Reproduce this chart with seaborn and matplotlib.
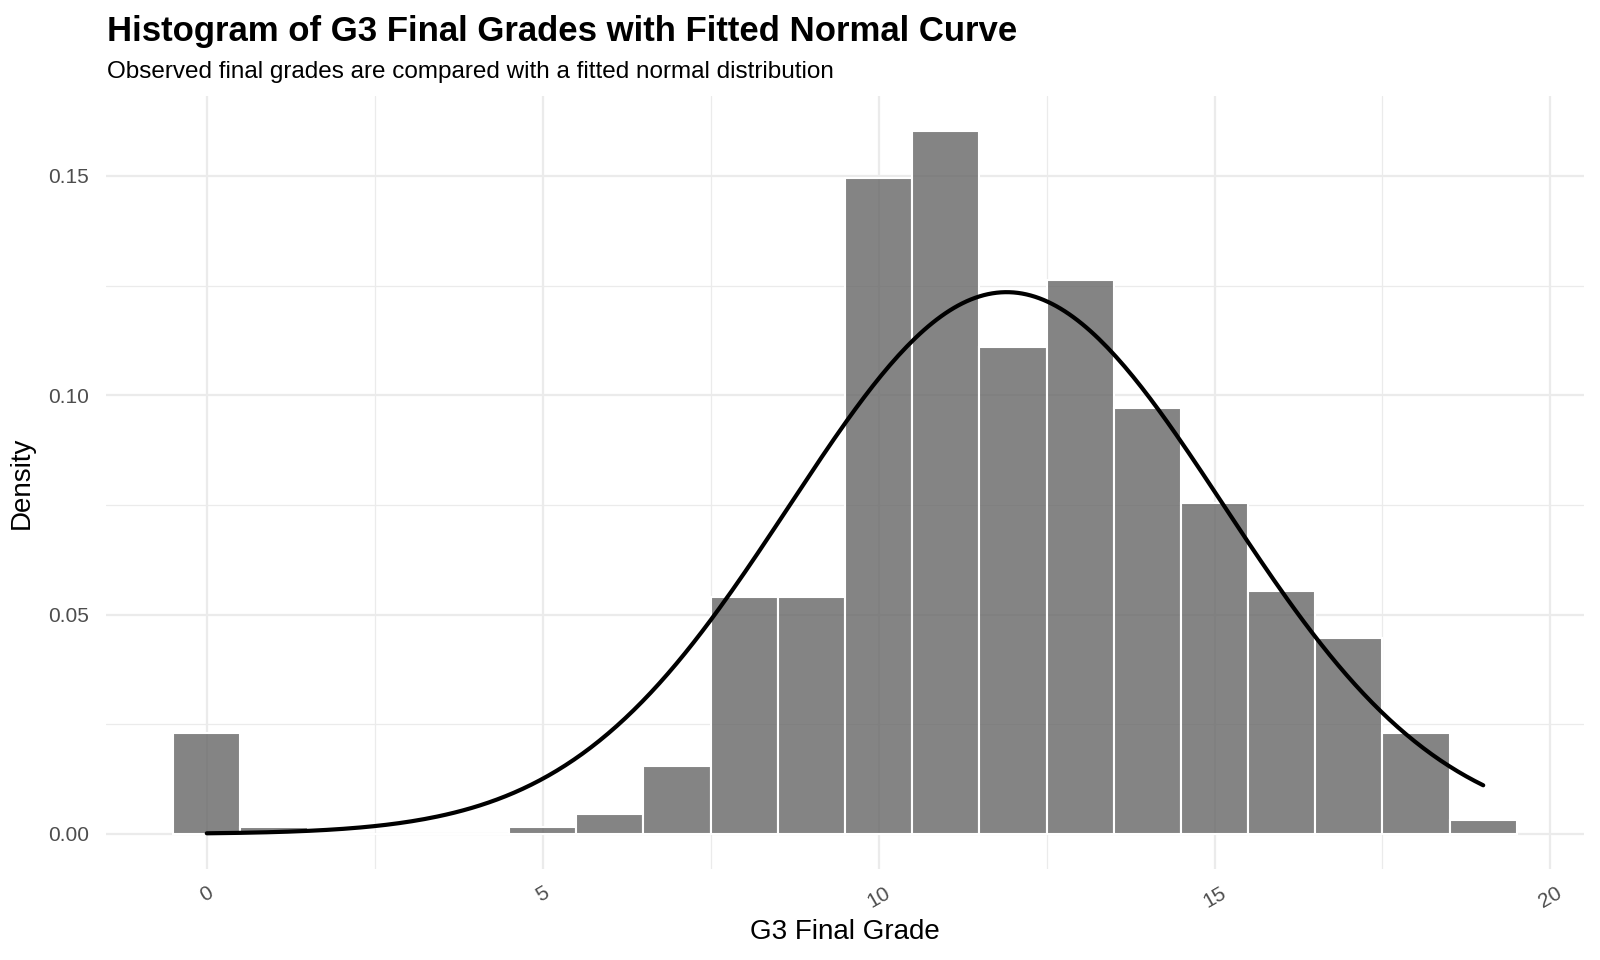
import numpy as np
import pandas as pd
import matplotlib
matplotlib.use("Agg")
import matplotlib.pyplot as plt
import seaborn as sns

# ---- data: G3 final grade counts (649 students) ----
grades = [0, 1, 5, 6, 7, 8, 9, 10, 11, 12, 13, 14, 15, 16, 17, 18, 19]
counts = [15, 1, 1, 3, 10, 35, 35, 97, 104, 72, 82, 63, 49, 36, 29, 15, 2]
x_ticks = [0, 5, 10, 15, 20]
y_ticks = [0.00, 0.05, 0.10, 0.15]

title = "Histogram of G3 Final Grades with Fitted Normal Curve"
subtitle = "Observed final grades are compared with a fitted normal distribution"

df = pd.DataFrame({"G3": grades, "n": counts})

# fitted normal from the data
g = np.repeat(df["G3"].values, df["n"].values)
mu, sd = g.mean(), g.std(ddof=1)
xs = np.linspace(g.min(), g.max(), 300)
ys = np.exp(-0.5 * ((xs - mu) / sd) ** 2) / (sd * np.sqrt(2 * np.pi))
curve = pd.DataFrame({"x": xs, "y": ys})

sns.set_theme(style="white")
plt.rcParams["font.family"] = ["Liberation Sans", "DejaVu Sans"]

fig = plt.figure(figsize=(16, 9.6), dpi=100)
ax = fig.add_axes([106 / 1600, 1 - 869 / 960, (1584 - 106) / 1600, (869 - 96) / 960])

ax.set_axisbelow(True)
ax.set_xticks(x_ticks)
ax.set_yticks(y_ticks)
ax.set_xticks([2.5, 7.5, 12.5, 17.5], minor=True)
ax.set_yticks([0.025, 0.075, 0.125], minor=True)
ax.grid(which="major", color="#ebebeb", linewidth=1.6)
ax.grid(which="minor", color="#ebebeb", linewidth=0.9)

sns.histplot(data=df, x="G3", weights="n", stat="density", discrete=True,
             color="#666666", alpha=0.8, edgecolor="white", linewidth=1.5,
             ax=ax, zorder=2)
sns.lineplot(data=curve, x="x", y="y", color="black", linewidth=3.0, ax=ax, zorder=3)

ax.set_xlim(-1.5, 20.5)
ax.set_ylim(-0.0080, 0.1682)

for s in ax.spines.values():
    s.set_visible(False)
ax.tick_params(axis="both", which="both", length=0)
ax.set_yticklabels([f"{v:.2f}" for v in y_ticks], fontsize=15, color="#4d4d4d")
ax.set_xticklabels([str(v) for v in x_ticks], fontsize=15, color="#4d4d4d",
                   rotation=30, ha="center")
ax.tick_params(axis="x", pad=10)
ax.tick_params(axis="y", pad=12)

ax.set_xlabel("G3 Final Grade", fontsize=20, color="black", labelpad=6)
ax.set_ylabel("Density", fontsize=20, color="black", labelpad=10)

fig.text(107 / 1600, 1 - 41 / 960, title, fontsize=25, fontweight="bold",
         color="black", ha="left", va="baseline")
fig.text(107 / 1600, 1 - 78 / 960, subtitle, fontsize=17.5, color="black",
         ha="left", va="baseline")

fig.savefig("out.png", dpi=100, facecolor="white")
